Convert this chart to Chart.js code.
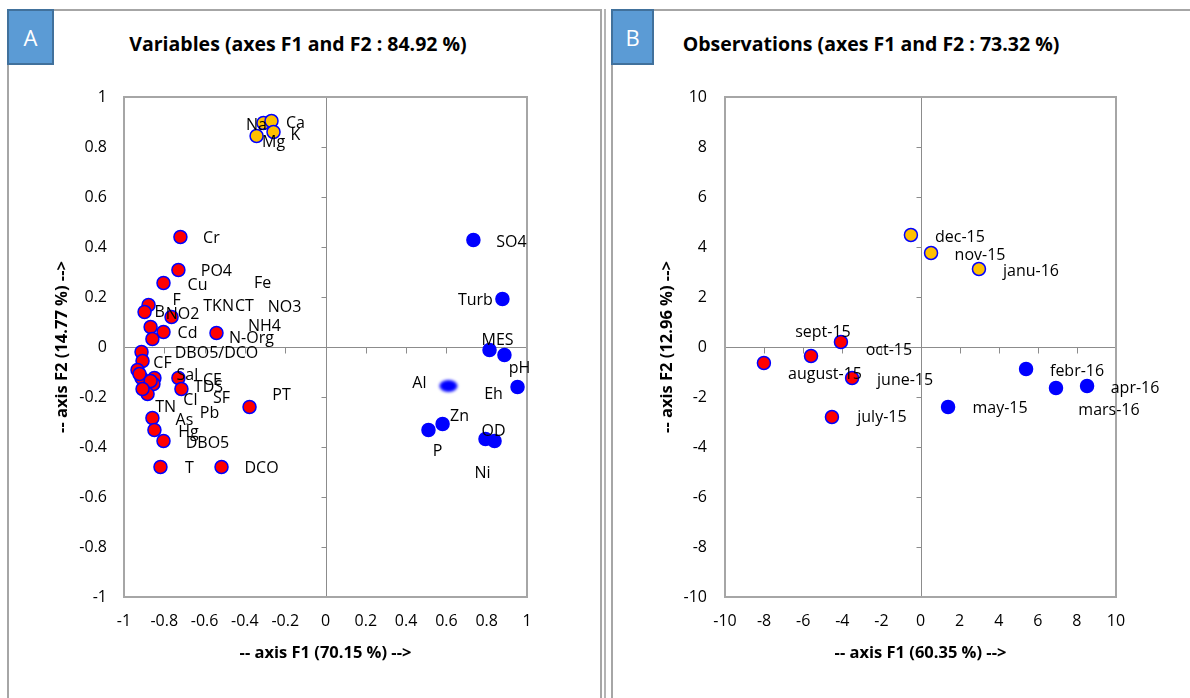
<!DOCTYPE html>
<html>
<head>
<meta charset="utf-8">
<title>PCA – variables and observations</title>
<script src="https://cdn.jsdelivr.net/npm/chart.js@4.4.1/dist/chart.umd.min.js"></script>
<style>
  html, body { margin: 0; padding: 0; background: #fff; }
  body { width: 1190px; height: 698px; position: relative; overflow: hidden; font-family: "Open Sans", sans-serif; }
  .frame { position: absolute; border: 2px solid #a6a6a6; box-sizing: border-box; }
  .vline { position: absolute; top: 9px; width: 2px; height: 700px; background: #b4b4b4; }
  .tag { position: absolute; background: #5b9bd5; border: 2px solid #41719c; color: #fff; font-size: 22px;
         display: flex; align-items: center; justify-content: center; box-sizing: border-box; }
  .title { position: absolute; font-weight: bold; font-size: 19.5px; color: #000; white-space: nowrap; transform: translateX(-50%); }
  canvas { position: absolute; top: 0; }
</style>
</head>
<body>
<div class="frame" style="left:7px;top:9px;width:595px;height:720px"></div>
<div class="vline" style="left:604px"></div>
<div class="frame" style="left:611px;top:9px;width:600px;height:720px"></div>
<div class="tag" style="left:7px;top:9px;width:47px;height:56px">A</div>
<div class="tag" style="left:611px;top:9px;width:43px;height:56px">B</div>
<div class="title" style="left:298px;top:30px">Variables (axes F1 and F2 : 84.92 %)</div>
<div class="title" style="left:871px;top:30px">Observations (axes F1 and F2 : 73.32 %)</div>
<canvas id="chartA" width="600" height="698" style="left:0"></canvas>
<canvas id="chartB" width="590" height="698" style="left:600px"></canvas>

<script>
// ---------- Panel A: correlation of variables with F1 / F2 ----------
const redVars = ['Cr','PO4','Cu','F','B','NO2','TKN','Cd','CT','N-Org','DBO5/DCO','CF','Fe','NO3','NH4',
                 'Sal','CE','TDS','Cl','SF','PT','TN','Pb','As','Hg','DBO5','T','DCO'];
const redF1 = [-0.720,-0.730,-0.804,-0.878,-0.898,-0.764,-0.868,-0.804,-0.859,-0.541,-0.913,-0.908,-0.933,-0.913,-0.923,
               -0.730,-0.849,-0.715,-0.854,-0.868,-0.377,-0.883,-0.908,-0.859,-0.849,-0.804,-0.819,-0.516];
const redF2 = [0.440,0.308,0.256,0.168,0.140,0.120,0.080,0.060,0.032,0.056,-0.020,-0.056,-0.092,-0.124,-0.108,
               -0.124,-0.124,-0.168,-0.148,-0.136,-0.240,-0.188,-0.168,-0.284,-0.332,-0.376,-0.480,-0.480];

const blueVars = ['SO4','Turb','MES','pH','Eh','Zn','P','OD','Ni'];
const blueF1 = [0.734,0.878,0.814,0.888,0.953,0.581,0.511,0.794,0.839];
const blueF2 = [0.428,0.192,-0.012,-0.032,-0.160,-0.308,-0.332,-0.368,-0.376];

const hazyVars = ['Al'];
const hazyF1 = [0.610];
const hazyF2 = [-0.156];

const goldVars = ['Mg','Na','Ca','K'];
const goldF1 = [-0.342,-0.308,-0.268,-0.258];
const goldF2 = [0.844,0.896,0.904,0.860];

const ticksA = [-1,-0.8,-0.6,-0.4,-0.2,0,0.2,0.4,0.6,0.8,1];
const tickLabelsA = ['-1','-0.8','-0.6','-0.4','-0.2','0','0.2','0.4','0.6','0.8','1'];

// ---------- Panel B: observations (months) on F1 / F2 ----------
const redMonths = ['oct-15','august-15','sept-15','june-15','july-15'];
const redObsF1 = [-8.01,-5.60,-4.07,-3.50,-4.53];
const redObsF2 = [-0.64,-0.36,0.20,-1.24,-2.80];

const goldMonths = ['dec-15','nov-15','janu-16'];
const goldObsF1 = [-0.49,0.54,2.99];
const goldObsF2 = [4.48,3.76,3.12];

const blueMonths = ['may-15','febr-16','mars-16','apr-16'];
const blueObsF1 = [1.41,5.40,6.93,8.52];
const blueObsF2 = [-2.40,-0.88,-1.64,-1.56];

const ticksB = [-10,-8,-6,-4,-2,0,2,4,6,8,10];
const tickLabelsB = ['-10','-8','-6','-4','-2','0','2','4','6','8','10'];

// label placement (pixel offsets from each marker)
const redVarOffsets = [[31,1],[38,1],[34,2],[28,-5],[15,0],[11,-3],[68,-21],[24,1],[92,-33],[35,5],[75,1],[20,2],
  [125,-87],[143,-71],[125,-48],[9,-3],[58,2],[27,-2],[37,16],[71,17],[32,-12],[18,13],[67,24],[32,2],[34,2],[44,2],[29,1],[40,1]];
const blueVarOffsets = [[38,2],[-27,1],[8,-10],[15,13],[-24,7],[17,-8],[9,21],[8,-8],[-12,32]];
const hazyVarOffsets = [[-29,-3]];
const goldVarOffsets = [[17,6],[-7,2],[24,2],[22,3]];
const redMonthOffsets = [[125,-13],[14,18],[-18,-10],[53,2],[50,0]];
const goldMonthOffsets = [[49,2],[49,2],[52,2]];
const blueMonthOffsets = [[52,1],[51,2],[53,22],[48,2]];

const FONT = '"Open Sans", sans-serif';
const RED = '#ff0000', BLUE = '#0000ff', GOLD = '#ffc000';

function pts(xs, ys) { return xs.map((v, i) => ({ x: v, y: ys[i] })); }

function hazyDot(color) {
  const c = document.createElement('canvas');
  c.width = 30; c.height = 22;
  const g = c.getContext('2d');
  g.filter = 'blur(1.6px)';
  g.fillStyle = color;
  g.beginPath();
  g.ellipse(15, 11, 9, 6, 0, 0, Math.PI * 2);
  g.fill();
  return c;
}

function series(names, xs, ys, offsets, fill, stroke, style) {
  return {
    data: pts(xs, ys),
    names: names,
    offsets: offsets,
    backgroundColor: fill,
    borderColor: stroke,
    borderWidth: 1.5,
    pointRadius: 6.5,
    pointHoverRadius: 6.5,
    pointStyle: style || 'circle'
  };
}

// plot frame, zero axes with their tick marks
const axesPlugin = {
  id: 'pcaAxes',
  beforeDatasetsDraw(chart) {
    const { ctx, chartArea: a, scales: { x, y } } = chart;
    const x0 = Math.round(x.getPixelForValue(0)) + 0.5;
    const y0 = Math.round(y.getPixelForValue(0)) + 0.5;
    ctx.save();
    ctx.strokeStyle = '#8c8c8c';
    ctx.lineWidth = 1;
    ctx.beginPath();
    ctx.moveTo(x0, a.top); ctx.lineTo(x0, a.bottom);
    ctx.moveTo(a.left, y0); ctx.lineTo(a.right, y0);
    y.ticks.forEach(t => {
      const py = Math.round(y.getPixelForValue(t.value)) + 0.5;
      ctx.moveTo(x0 - 5, py); ctx.lineTo(x0, py);
    });
    x.ticks.forEach(t => {
      const px = Math.round(x.getPixelForValue(t.value)) + 0.5;
      ctx.moveTo(px, y0); ctx.lineTo(px, y0 + 6);
    });
    ctx.stroke();
    ctx.strokeStyle = '#a6a6a6';
    ctx.lineWidth = 2;
    ctx.strokeRect(a.left, a.top, a.right - a.left, a.bottom - a.top);
    ctx.restore();
  }
};

// point names next to the markers
const namesPlugin = {
  id: 'pointNames',
  afterDatasetsDraw(chart) {
    const ctx = chart.ctx;
    ctx.save();
    ctx.font = '16px ' + FONT;
    ctx.fillStyle = '#000';
    ctx.textAlign = 'center';
    ctx.textBaseline = 'middle';
    chart.data.datasets.forEach((ds, di) => {
      const meta = chart.getDatasetMeta(di);
      meta.data.forEach((el, i) => {
        const off = ds.offsets[i];
        ctx.fillText(ds.names[i], el.x + off[0], el.y + off[1]);
      });
    });
    ctx.restore();
  }
};

function axis(values, labels, titleText, isX, fitSize, tickPad, titlePad) {
  return {
    type: 'linear',
    min: values[0],
    max: values[values.length - 1],
    afterBuildTicks(s) { s.ticks = values.map(v => ({ value: v })); },
    ticks: {
      padding: tickPad,
      color: '#000',
      font: { family: FONT, size: 16 },
      callback: (v, i) => labels[i]
    },
    grid: { display: false, drawTicks: false },
    border: { display: false },
    title: {
      display: true,
      text: titleText,
      color: '#000',
      font: { family: FONT, size: 16.5, weight: 'bold' },
      padding: isX ? { top: 0, bottom: titlePad } : { top: titlePad, bottom: 0 }
    },
    afterFit(s) { if (isX) s.height = fitSize; else s.width = fitSize; }
  };
}

function makeChart(id, datasets, xCfg, yCfg, padRight) {
  return new Chart(document.getElementById(id), {
    type: 'scatter',
    data: { datasets: datasets },
    options: {
      responsive: false,
      animation: false,
      events: [],
      layout: { padding: { left: 0, top: 97, right: padRight, bottom: 0 } },
      plugins: { legend: { display: false }, tooltip: { enabled: false } },
      scales: { x: xCfg, y: yCfg }
    },
    plugins: [axesPlugin, namesPlugin]
  });
}

makeChart('chartA', [
    series(redVars, redF1, redF2, redVarOffsets, RED, BLUE),
    series(blueVars, blueF1, blueF2, blueVarOffsets, BLUE, BLUE),
    series(hazyVars, hazyF1, hazyF2, hazyVarOffsets, BLUE, BLUE, hazyDot(BLUE)),
    series(goldVars, goldF1, goldF2, goldVarOffsets, GOLD, BLUE)
  ],
  axis(ticksA, tickLabelsA, '-- axis F1 (70.15 %) -->', true, 101, 15, 35),
  axis(ticksA, tickLabelsA, '-- axis F2 (14.77 %) -->', false, 124, 17, 52),
  73);

makeChart('chartB', [
    series(redMonths, redObsF1, redObsF2, redMonthOffsets, RED, BLUE),
    series(goldMonths, goldObsF1, goldObsF2, goldMonthOffsets, GOLD, BLUE),
    series(blueMonths, blueObsF1, blueObsF2, blueMonthOffsets, BLUE, BLUE)
  ],
  axis(ticksB, tickLabelsB, '-- axis F1 (60.35 %) -->', true, 101, 15, 35),
  axis(ticksB, tickLabelsB, '-- axis F2 (12.96 %) -->', false, 125, 18, 57),
  74);
</script>
</body>
</html>
